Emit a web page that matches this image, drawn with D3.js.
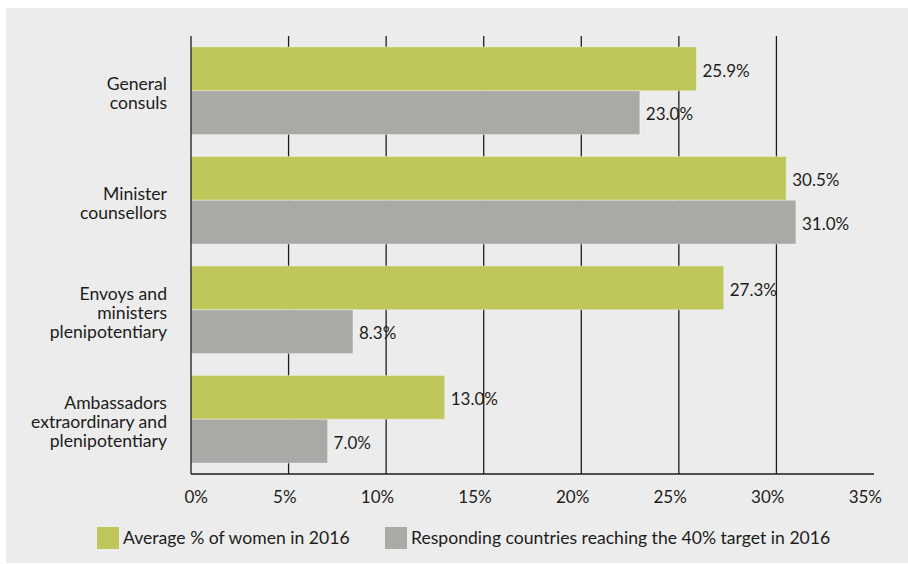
<!DOCTYPE html>
<html>
<head>
<meta charset="utf-8">
<script src="https://cdn.jsdelivr.net/npm/d3@7"></script>
<style>
  body { margin: 0; background: #fff; }
  text { font-family: Lato, "Open Sans", sans-serif; fill: #1d1d1b; font-size: 17px; }
  .cat, .legend-text { font-size: 17.6px; }
</style>
</head>
<body>
<div id="chart"></div>
<script>
// data
const categories = [
    ['General', 'consuls'],
    ['Minister', 'counsellors'],
    ['Envoys and', 'ministers', 'plenipotentiary'],
    ['Ambassadors', 'extraordinary and', 'plenipotentiary']
];
const seriesNames = ['Average % of women in 2016', 'Responding countries reaching the 40% target in 2016'];
const averageWomen = [25.9, 30.5, 27.3, 13.0];
const countriesReaching = [23.0, 31.0, 8.3, 7.0];
const xTicks = [0, 5, 10, 15, 20, 25, 30, 35];

const colors = ['#bfc75a', '#a9aaa5'];

const width = 908;
const height = 564;
const margin = { top: 36, right: 34, bottom: 90, left: 191 };

const svg = d3.select('#chart')
    .append('svg')
    .attr('width', width)
    .attr('height', height);

// grey panel
svg.append('rect')
    .attr('x', 6)
    .attr('y', 8)
    .attr('width', width - 6)
    .attr('height', 555)
    .attr('fill', '#ececec');

const xScale = d3.scaleLinear()
    .domain([0, 35])
    .range([margin.left, width - margin.right]);

const yScale = d3.scaleBand()
    .domain(d3.range(categories.length))
    .range([margin.top, height - margin.bottom])
    .paddingInner(0.2)
    .paddingOuter(0.1);

const ySub = d3.scaleBand()
    .domain([0, 1])
    .range([0, yScale.bandwidth()]);

const axisY = height - margin.bottom;

// gridlines
svg.append('g')
    .selectAll('line')
    .data(xTicks.filter(t => t > 0 && t < 35))
    .join('line')
        .attr('x1', d => xScale(d))
        .attr('x2', d => xScale(d))
        .attr('y1', margin.top)
        .attr('y2', axisY)
        .attr('stroke', '#1d1d1b')
        .attr('stroke-width', 1.3);

const rows = categories.map((c, i) => ({ i, values: [averageWomen[i], countriesReaching[i]] }));

const groups = svg.append('g')
    .selectAll('g')
    .data(rows)
    .join('g')
        .attr('transform', d => `translate(0, ${yScale(d.i)})`);

groups.selectAll('rect')
    .data(d => d.values.map((v, s) => ({ v, s })))
    .join('rect')
        .attr('x', xScale(0))
        .attr('y', d => ySub(d.s))
        .attr('width', d => xScale(d.v) - xScale(0))
        .attr('height', ySub.bandwidth())
        .attr('fill', d => colors[d.s])
        .attr('stroke', 'rgba(255,255,255,0.35)')
        .attr('stroke-width', 1);

groups.selectAll('text.value')
    .data(d => d.values.map((v, s) => ({ v, s })))
    .join('text')
        .attr('class', 'value')
        .attr('x', d => xScale(d.v) + 6)
        .attr('y', d => ySub(d.s) + ySub.bandwidth() / 2)
        .attr('dy', '0.46em')
        .text(d => d3.format('.1f')(d.v) + '%');

// category labels
groups.append('text')
    .attr('class', 'cat')
    .attr('text-anchor', 'end')
    .attr('x', 167)
    .attr('y', yScale.bandwidth() / 2 + 3)
    .selectAll('tspan')
    .data(d => categories[d.i].map((line, k, arr) => ({ line, k, n: arr.length })))
    .join('tspan')
        .attr('x', 167)
        .attr('dy', d => d.k === 0 ? `${0.35 - (d.n - 1) * 0.54}em` : '1.08em')
        .text(d => d.line);

// axes lines
svg.append('line')
    .attr('x1', xScale(0))
    .attr('x2', xScale(0))
    .attr('y1', margin.top)
    .attr('y2', axisY)
    .attr('stroke', '#1d1d1b')
    .attr('stroke-width', 1.3);

svg.append('line')
    .attr('x1', xScale(0))
    .attr('x2', xScale(35))
    .attr('y1', axisY)
    .attr('y2', axisY)
    .attr('stroke', '#1d1d1b')
    .attr('stroke-width', 1.3);

// tick labels
svg.append('g')
    .selectAll('text')
    .data(xTicks)
    .join('text')
        .attr('x', d => xScale(d) + (d === 0 ? 17 : 8))
        .attr('y', 503)
        .attr('text-anchor', 'end')
        .text(d => d + '%');

// legend
const legendX = [97, 385];
const legend = svg.append('g')
    .selectAll('g')
    .data(seriesNames)
    .join('g')
        .attr('transform', (d, i) => `translate(${legendX[i]}, 527)`);

legend.append('rect')
    .attr('width', 22)
    .attr('height', 22)
    .attr('fill', (d, i) => colors[i]);

legend.append('text')
    .attr('class', 'legend-text')
    .attr('x', 26)
    .attr('y', 17)
    .text(d => d);
</script>
</body>
</html>
